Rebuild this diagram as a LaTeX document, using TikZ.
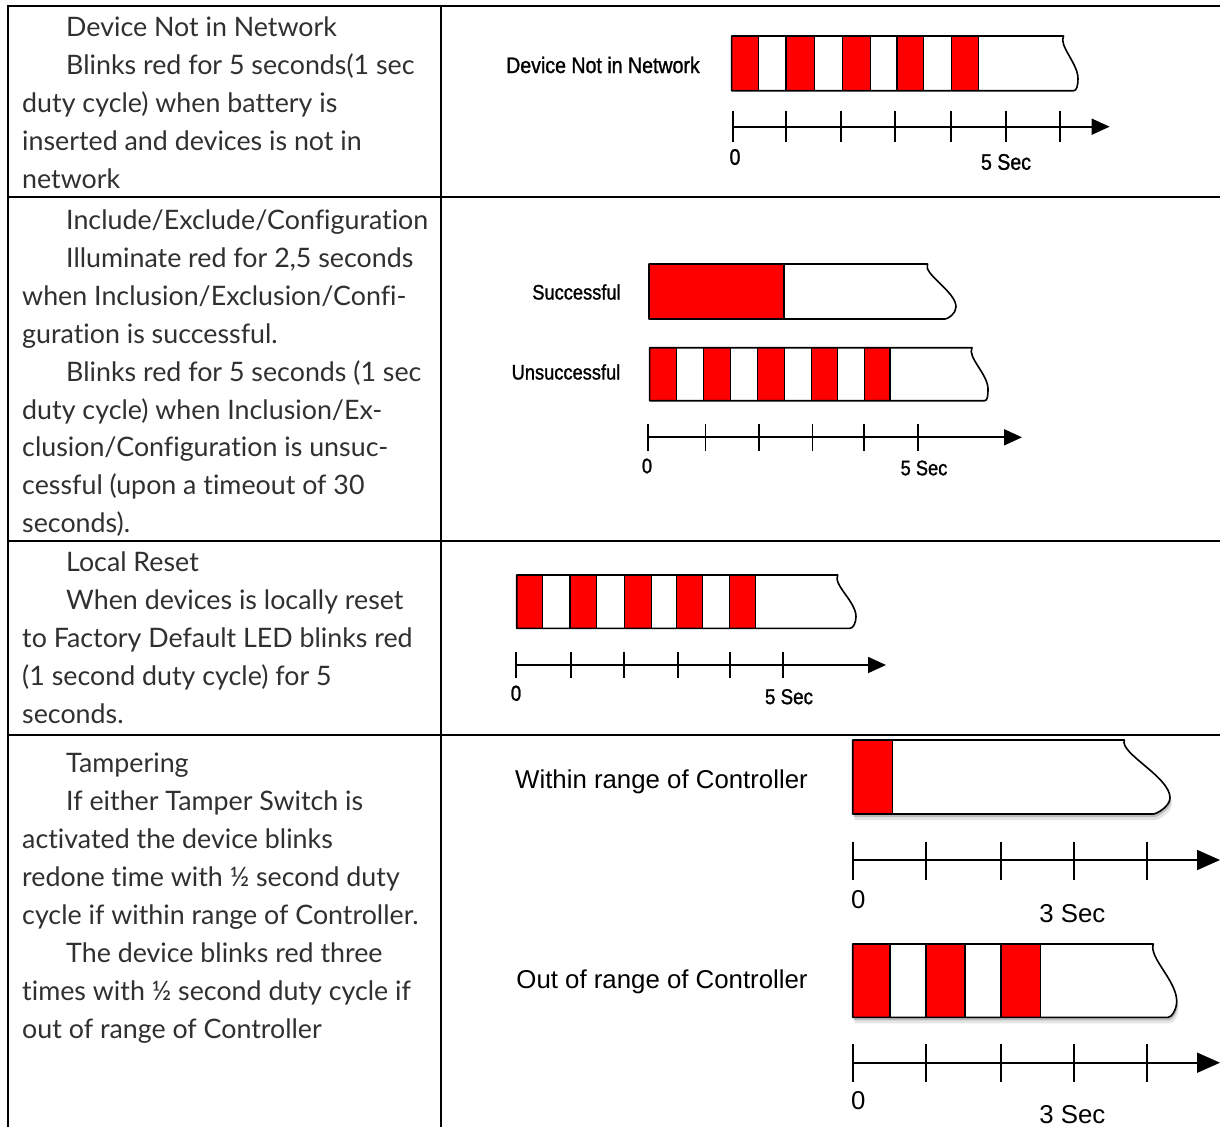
\documentclass[tikz,border=0pt]{standalone}
\usepackage{fontspec}
\setmainfont{Lato}[Ligatures=NoCommon]
\newfontfamily\arialfont{Liberation Sans}
\newfontfamily\labfont{Liberation Sans}[FakeBold=1.2,FakeStretch=0.87]
\usetikzlibrary{arrows.meta,shadows}
\definecolor{ledred}{RGB}{255,0,0}
\definecolor{txtgray}{RGB}{48,48,48}
\newcommand{\tornpath}[6]{(#1,#2) -- (#4,#2) .. controls ({#4-5},{#2+0.18*(#3-#2)}) and ({#5},{#2+0.5*(#3-#2)}) .. ({#5},{#2+0.78*(#3-#2)}) .. controls ({#5},{#2+0.9*(#3-#2)}) and ({#6+3},{#3}) .. (#6,#3) -- (#1,#3) -- cycle}
\newcommand{\ledbar}[8]{%
  \fill[white,#8] \tornpath{#1}{#2}{#3}{#4}{#5}{#6};
  \foreach \p/\q in {#7} {\fill[ledred] (\p,#2) rectangle (\q,#3); \draw[cellline] (\p,#2) -- (\p,#3) (\q,#2) -- (\q,#3);}
  \draw[barline] \tornpath{#1}{#2}{#3}{#4}{#5}{#6};
}
\begin{document}
\begin{tikzpicture}[x=1pt,y=-1pt,
  rule/.style={line width=2pt},
  desc/.style={anchor=base west,inner sep=0pt,font=\fontsize{26.8}{30}\selectfont,text=txtgray},
  lbl/.style={inner sep=0pt,font=\labfont\fontsize{22.5}{24}\selectfont},
  lblmid/.style={inner sep=0pt,font=\labfont\fontsize{21.6}{24}\selectfont},
  lblsm/.style={inner sep=0pt,font=\labfont\fontsize{21}{24}\selectfont},
  biglbl/.style={inner sep=0pt,font=\arialfont\fontsize{25.8}{30}\selectfont},
  barline/.style={line width=1.6pt,line join=round},
  cellline/.style={line width=1.1pt},
  axisline/.style={line width=1.8pt},
  axisarrow/.style={line width=1.8pt,-{Triangle[length=18pt,width=16pt]}},
  bigarrow/.style={line width=1.8pt,-{Triangle[length=23pt,width=20pt]}},
  shad/.style={drop shadow={shadow xshift=1pt,shadow yshift=-3pt,opacity=.18,fill=black},drop shadow={shadow xshift=2pt,shadow yshift=-6pt,opacity=.10,fill=black}},
]
\useasboundingbox[fill=white] (0,0) rectangle (1220,1127);

% table rules
\draw[rule] (8,6) -- (1220,6);
\draw[rule] (8,197) -- (1220,197);
\draw[rule] (8,541) -- (1220,541);
\draw[rule] (8,735) -- (1220,735);
\draw[rule] (8,5) -- (8,1127);
\draw[rule] (441,5) -- (441,1127);

% left column text
\node[desc] (t1a) at (66,36.7) {Device Not in Network};
\node[desc] (t1b) at (66,74.6) {Blinks red for 5 seconds(1 sec};
\node[desc] (t1c) at (22,112.5) {duty cycle) when battery is};
\node[desc] (t1d) at (22,150.4) {inserted and devices is not in};
\node[desc] (t1e) at (22,188.3) {network};

\node[desc] (t2a) at (66,229.5) {Include/Exclude/Configuration};
\node[desc] (t2b) at (66,267.4) {Illuminate red for 2,5 seconds};
\node[desc] (t2c) at (22,305.3) {when Inclusion/Exclusion/Confi-};
\node[desc] (t2d) at (22,343.2) {guration is successful.};
\node[desc] (t2e) at (66,381.1) {Blinks red for 5 seconds (1 sec};
\node[desc] (t2f) at (22,419.0) {duty cycle) when Inclusion/Ex-};
\node[desc] (t2g) at (22,456.9) {clusion/Configuration is unsuc-};
\node[desc] (t2h) at (22,494.8) {cessful (upon a timeout of 30};
\node[desc] (t2i) at (22,532.7) {seconds).};

\node[desc] (t3a) at (66,571.7) {Local Reset};
\node[desc] (t3b) at (66,609.7) {When devices is locally reset};
\node[desc] (t3c) at (22,647.7) {to Factory Default LED blinks red};
\node[desc] (t3d) at (22,685.7) {(1 second duty cycle) for 5};
\node[desc] (t3e) at (22,723.7) {seconds.};

\node[desc] (t4a) at (66,772) {Tampering};
\node[desc] (t4b) at (66,810) {If either Tamper Switch is};
\node[desc] (t4c) at (22,848) {activated the device blinks};
\node[desc] (t4d) at (22,886) {redone time with ½ second duty};
\node[desc] (t4e) at (22,924) {cycle if within range of Controller.};
\node[desc] (t4f) at (66,962) {The device blinks red three};
\node[desc] (t4g) at (22,1000) {times with ½ second duty cycle if};
\node[desc] (t4h) at (22,1038) {out of range of Controller};

% ---------- row 1
\node[lbl] (lab1) at (603,65) {Device Not in Network};
\ledbar{731.6}{36}{90.7}{1063.5}{1078}{1073.7}{731.6/758.6,786/814.5,842.6/870.4,897/923.5,951.4/978.6}{}
\coordinate (a1s) at (733,126.7);
\coordinate (a1e) at (1109.6,126.7);
\draw[axisarrow] (a1s) -- (a1e);
\foreach \x in {733,786,841,895,951,1006,1060} \draw[axisline] (\x,110.7) -- (\x,141.7);
\node[lbl] (z1) at (735,157) {0};
\node[lbl] (s1) at (1006,162) {5 Sec};

% ---------- row 2
\node[lblsm] (labS) at (576.5,292) {Successful};
\ledbar{649}{264}{319}{927.5}{956}{945}{649/784}{}
\node[lblsm] (labU) at (566,372) {Unsuccessful};
\ledbar{649.6}{347.7}{400.7}{972}{988}{984.6}{649.6/676.4,703.6/730.4,757.9/784.6,811.4/837.1,864.3/890}{}
\coordinate (a2s) at (648.2,437.3);
\coordinate (a2e) at (1022,437.3);
\draw[axisarrow] (a2s) -- (a2e);
\foreach \x in {648.2,705.4,759,812.5,864.3,917.9} \draw[axisline] (\x,424) -- (\x,451);
\node[lblsm] (z2) at (647,466) {0};
\node[lblsm] (s2) at (924,468) {5 Sec};

% ---------- row 3
\ledbar{516.7}{575}{628.3}{837.7}{856}{850}{516.7/542.7,570/596.7,624.3/651.7,676.7/702.7,729.3/755.7}{}
\coordinate (a3s) at (516,665);
\coordinate (a3e) at (886,665);
\draw[axisarrow] (a3s) -- (a3e);
\foreach \x in {516,571,624.3,677.7,730,783.3} \draw[axisline] (\x,651.7) -- (\x,678.3);
\node[lblmid] (z3) at (516,693.3) {0};
\node[lblmid] (s3) at (789,696.7) {5 Sec};

% ---------- row 4
\node[biglbl] (labW) at (661.5,781.7) {Within range of Controller};
\ledbar{852.7}{740}{814}{1124.3}{1170}{1153.3}{852.7/892.3}{shad}
\coordinate (a4s) at (852.7,860);
\coordinate (a4e) at (1220,860);
\draw[bigarrow] (a4s) -- (a4e);
\foreach \x in {852.7,926,1001,1074.3,1147.3} \draw[axisline] (\x,841.7) -- (\x,880);
\node[biglbl] (z4) at (858.3,899.3) {0};
\node[biglbl] (s4) at (1072.3,914) {3 Sec};

\node[biglbl] (labO) at (662,981.7) {Out of range of Controller};
\ledbar{852.7}{944}{1017.3}{1153.3}{1176.7}{1168.3}{852.7/890,926/965,1001/1040.7}{shad}
\coordinate (a5s) at (852.7,1062.7);
\coordinate (a5e) at (1220,1062.7);
\draw[bigarrow] (a5s) -- (a5e);
\foreach \x in {852.7,926,1001,1074.3,1147.3} \draw[axisline] (\x,1044) -- (\x,1082);
\node[biglbl] (z5) at (858.3,1100.7) {0};
\node[biglbl] (s5) at (1072.3,1115) {3 Sec};
\end{tikzpicture}
\end{document}
